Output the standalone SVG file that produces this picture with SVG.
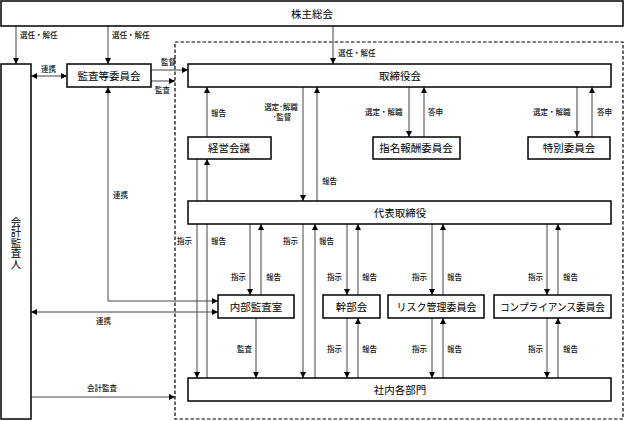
<svg xmlns="http://www.w3.org/2000/svg" width="625" height="421" viewBox="0 0 625 421">
<style>
.box{fill:#fff;stroke:#000;stroke-width:1.5}
.t{font-family:"Noto Sans CJK JP","Noto Sans",sans-serif;font-size:10.5px;fill:#000;text-anchor:middle}
.l{font-family:"Noto Sans CJK JP","Noto Sans",sans-serif;font-size:7.5px;fill:#111;font-weight:500}
.c{fill:none;stroke:#444;stroke-width:1;marker-end:url(#ah)}
.d{fill:none;stroke:#444;stroke-width:1;marker-start:url(#ah);marker-end:url(#ah)}
</style>
<defs>
<marker id="ah" markerUnits="userSpaceOnUse" markerWidth="7" markerHeight="7" refX="6" refY="3" orient="auto-start-reverse">
<path d="M0,0 L6,3 L0,6 z" fill="#000"/>
</marker>
</defs>
<rect x="175" y="42" width="448" height="377" fill="none" stroke="#000" stroke-width="1.2" stroke-dasharray="3.5,2"/>
<g id="connectors">
<path class="c" d="M16,26 V64"/>
<path class="c" d="M108,26 V64"/>
<path class="c" d="M333,26 V64"/>
<path class="d" d="M31,76 H67"/>
<path class="c" d="M151,70 H188"/>
<path class="c" d="M151,81 H175"/>
<path class="c" d="M207,137 V87"/>
<path class="c" d="M303,87 V201"/>
<path class="c" d="M317,201 V87"/>
<path class="c" d="M409,87 V137"/>
<path class="c" d="M424,137 V87"/>
<path class="c" d="M577,87 V137"/>
<path class="c" d="M592,137 V87"/>
<path class="c" d="M197,159 V378"/>
<path class="c" d="M207,378 V159"/>
<path class="c" d="M250,224 V295"/>
<path class="c" d="M261,295 V224"/>
<path class="c" d="M303,224 V378"/>
<path class="c" d="M315,378 V224"/>
<path class="c" d="M347,224 V295"/>
<path class="c" d="M358,295 V224"/>
<path class="c" d="M432,224 V295"/>
<path class="c" d="M443,295 V224"/>
<path class="c" d="M547,224 V295"/>
<path class="c" d="M558,295 V224"/>
<path class="c" d="M256,318 V378"/>
<path class="c" d="M347,318 V378"/>
<path class="c" d="M358,378 V318"/>
<path class="c" d="M432,318 V378"/>
<path class="c" d="M443,378 V318"/>
<path class="c" d="M547,318 V378"/>
<path class="c" d="M558,378 V318"/>
<path class="d" d="M108,87 V301 H218"/>
<path class="d" d="M31,312 H218"/>
<path class="c" d="M31,397 H175"/>
</g>
<g id="labels">
<text class="l" x="20" y="38">選任・解任</text>
<text class="l" x="112" y="38">選任・解任</text>
<text class="l" x="338" y="56">選任・解任</text>
<text class="l" x="41" y="72">連携</text>
<text class="l" x="161" y="65">監督</text>
<text class="l" x="155" y="93">監査</text>
<text class="l" x="211" y="116">報告</text>
<text class="l" x="281" y="110" text-anchor="middle">選定･解職</text>
<text class="l" x="282" y="120" text-anchor="middle">･監督</text>
<text class="l" x="322" y="184">報告</text>
<text class="l" x="365" y="115">選定・解職</text>
<text class="l" x="428" y="115">答申</text>
<text class="l" x="533" y="115">選定・解職</text>
<text class="l" x="597" y="115">答申</text>
<text class="l" x="113" y="198">連携</text>
<text class="l" x="177" y="244">指示</text>
<text class="l" x="211" y="244">報告</text>
<text class="l" x="283" y="244">指示</text>
<text class="l" x="319" y="244">報告</text>
<text class="l" x="231" y="280">指示</text>
<text class="l" x="266" y="280">報告</text>
<text class="l" x="327" y="280">指示</text>
<text class="l" x="362" y="280">報告</text>
<text class="l" x="412" y="280">指示</text>
<text class="l" x="447" y="280">報告</text>
<text class="l" x="528" y="280">指示</text>
<text class="l" x="563" y="280">報告</text>
<text class="l" x="96" y="324">連携</text>
<text class="l" x="237" y="352">監査</text>
<text class="l" x="327" y="352">指示</text>
<text class="l" x="362" y="352">報告</text>
<text class="l" x="412" y="352">指示</text>
<text class="l" x="447" y="352">報告</text>
<text class="l" x="528" y="352">指示</text>
<text class="l" x="563" y="352">報告</text>
<text class="l" x="87" y="391">会計監査</text>
</g>
<g id="shareholders"><rect class="box" x="1" y="1" width="622" height="25"/><text class="t" x="312" y="17.5">株主総会</text></g>
<g id="accounting-auditor"><rect class="box" x="1" y="64" width="30" height="355"/><text class="t" x="16" y="243" style="writing-mode:vertical-rl;font-size:10.5px">会計監査人</text></g>
<g id="audit-committee"><rect class="box" x="67" y="64" width="84" height="23"/><text class="t" x="109" y="79.5">監査等委員会</text></g>
<g id="board"><rect class="box" x="188" y="64" width="423" height="23"/><text class="t" x="400" y="79.5">取締役会</text></g>
<g id="management-meeting"><rect class="box" x="188" y="137" width="83" height="22"/><text class="t" x="229" y="152">経営会議</text></g>
<g id="nomination-committee"><rect class="box" x="373" y="137" width="87" height="22"/><text class="t" x="416" y="152">指名報酬委員会</text></g>
<g id="special-committee"><rect class="box" x="528" y="137" width="82" height="22"/><text class="t" x="569" y="152">特別委員会</text></g>
<g id="president"><rect class="box" x="188" y="201" width="423" height="23"/><text class="t" x="400" y="216.5">代表取締役</text></g>
<g id="internal-audit"><rect class="box" x="218" y="295" width="76" height="23"/><text class="t" x="256" y="310.5">内部監査室</text></g>
<g id="executive-meeting"><rect class="box" x="323" y="295" width="57" height="23"/><text class="t" x="351.5" y="310.5">幹部会</text></g>
<g id="risk-committee"><rect class="box" x="388" y="295" width="96" height="23"/><text class="t" x="436.5" y="310.5" textLength="80" lengthAdjust="spacingAndGlyphs">リスク管理委員会</text></g>
<g id="compliance-committee"><rect class="box" x="494" y="295" width="117" height="23"/><text class="t" x="552.5" y="310.5" textLength="105" lengthAdjust="spacingAndGlyphs">コンプライアンス委員会</text></g>
<g id="departments"><rect class="box" x="188" y="378" width="423" height="23"/><text class="t" x="400" y="393.5">社内各部門</text></g>
</svg>
